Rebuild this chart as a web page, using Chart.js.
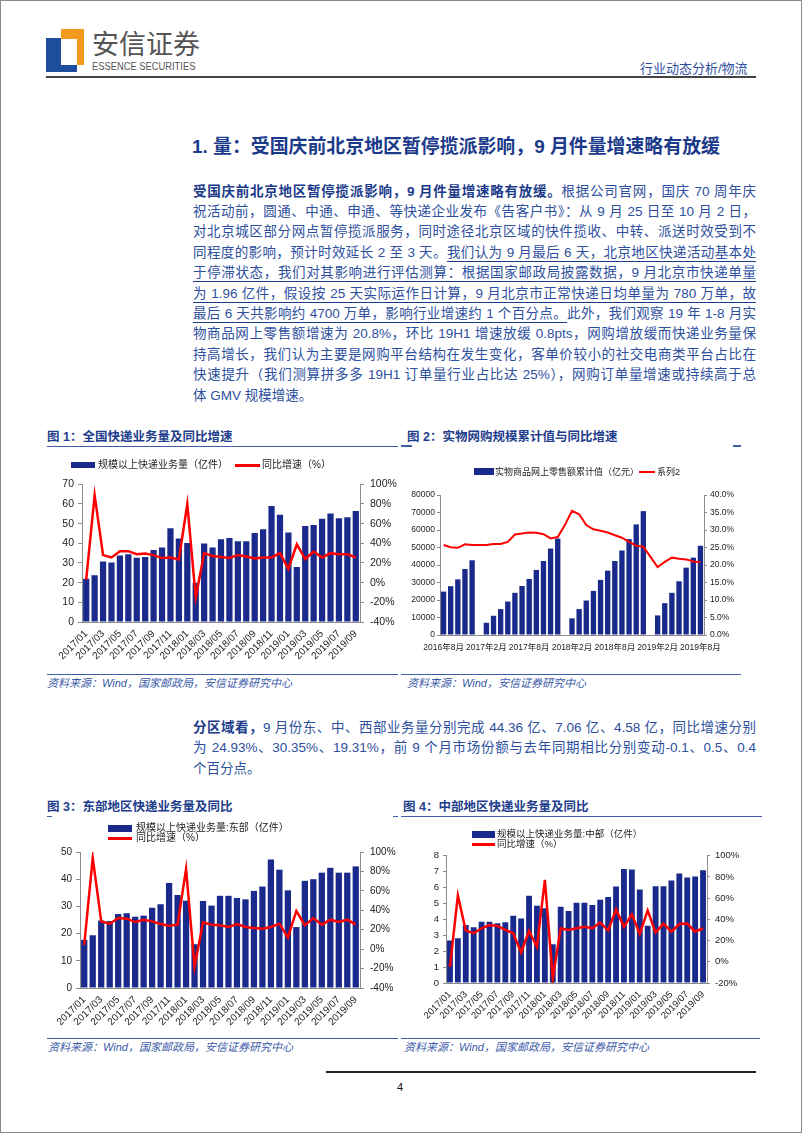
<!DOCTYPE html>
<html lang="zh-CN">
<head>
<meta charset="utf-8">
<title>行业动态分析/物流</title>
<script src="https://cdn.jsdelivr.net/npm/chart.js@4.4.1/dist/chart.umd.min.js"></script>
<style>
  html, body { margin: 0; padding: 0; background: #fff; }
  body { width: 802px; height: 1133px; position: relative; overflow: hidden;
         font-family: "Liberation Sans", "Noto Sans CJK SC", sans-serif; }
  .frame { position: absolute; left: 0; top: 0; width: 800px; height: 1131px; border: 1px solid #8a8a8a; }
  .abs { position: absolute; }
  .ln { position: absolute; left: 193px; width: 563px; height: 20.4px; line-height: 20.4px;
        font-size: 13.5px; color: #2d4f9e; text-align: justify; text-align-last: justify; }
  .ln.last { text-align-last: left; }
  .ln b { color: #1b3a8a; font-weight: 700; }
  .ul { text-decoration: underline; text-underline-offset: 4px; text-decoration-color: #1b3a8a; }
  .cap { position: absolute; font-size: 12.5px; font-weight: 700; color: #1e3d8c; letter-spacing: 0; line-height: 14px; white-space: nowrap; }
  .rule { position: absolute; height: 1.5px; background: #3e5ca8; }
  .src { position: absolute; font-size: 11px; font-style: italic; color: #3b5ba9; white-space: nowrap; line-height: 12px; }
  .box { position: absolute; }
  .lg { position: absolute; color: #222; white-space: nowrap; line-height: 12px; }
  .sw { position: absolute; }
</style>
</head>
<body>
<div class="frame"></div>

<!-- header -->
<div class="abs" style="left:46px;top:38px;width:15px;height:34px;background:#1d4e9e"></div>
<div class="abs" style="left:46px;top:65px;width:31px;height:7px;background:#1d4e9e"></div>
<div class="abs" style="left:61px;top:29px;width:23px;height:10px;background:#f39a1e"></div>
<div class="abs" style="left:77px;top:29px;width:7px;height:36px;background:#f39a1e"></div>
<div class="abs" style="left:92px;top:27px;font-size:27px;line-height:32px;color:#555;font-family:'Noto Sans CJK SC',sans-serif;">安信证券</div>
<div class="abs" style="left:92px;top:60px;font-size:11px;line-height:12px;color:#555;transform:scaleX(0.85);transform-origin:0 0;white-space:nowrap;">ESSENCE SECURITIES</div>
<div class="abs" style="left:640px;top:61px;font-size:13px;line-height:15px;color:#2f4f9f;">行业动态分析/物流</div>
<div class="abs" style="left:46px;top:76px;width:710px;height:2px;background:#444"></div>

<!-- section title -->
<div class="abs" style="left:192px;top:136px;font-size:18.9px;line-height:22px;font-weight:700;color:#1b3a8a;white-space:nowrap;">1. 量：受国庆前北京地区暂停揽派影响，9 月件量增速略有放缓</div>

<!-- paragraph 1 -->
<div class="ln" style="top:181.5px"><b>受国庆前北京地区暂停揽派影响，9 月件量增速略有放缓。</b>根据公司官网，国庆 70 周年庆</div>
<div class="ln" style="top:201.9px">祝活动前，圆通、中通、申通、等快递企业发布《告客户书》：从 9 月 25 日至 10 月 2 日，</div>
<div class="ln" style="top:222.3px">对北京城区部分网点暂停揽派服务，同时途径北京区域的快件揽收、中转、派送时效受到不</div>
<div class="ln" style="top:242.7px">同程度的影响，预计时效延长 2 至 3 天。<span class="ul">我们认为 9 月最后 6 天，北京地区快递活动基本处</span></div>
<div class="ln" style="top:263.1px"><span class="ul">于停滞状态，我们对其影响进行评估测算：根据国家邮政局披露数据，9 月北京市快递单量</span></div>
<div class="ln" style="top:283.5px"><span class="ul">为 1.96 亿件，假设按 25 天实际运作日计算，9 月北京市正常快递日均单量为 780 万单，故</span></div>
<div class="ln" style="top:303.9px"><span class="ul">最后 6 天共影响约 4700 万单，影响行业增速约 1 个百分点。</span>此外，我们观察 19 年 1-8 月实</div>
<div class="ln" style="top:324.3px">物商品网上零售额增速为 20.8%，环比 19H1 增速放缓 0.8pts，网购增放缓而快递业务量保</div>
<div class="ln" style="top:344.7px">持高增长，我们认为主要是网购平台结构在发生变化，客单价较小的社交电商类平台占比在</div>
<div class="ln" style="top:365.1px">快速提升（我们测算拼多多 19H1 订单量行业占比达 25%），网购订单量增速或持续高于总</div>
<div class="ln last" style="top:385.5px">体 GMV 规模增速。</div>

<!-- figure 1 / 2 frames -->
<div class="cap" style="left:47px;top:430px">图 1：全国快递业务量及同比增速</div>
<div class="rule" style="left:47px;top:445.5px;width:351px"></div>
<div class="cap" style="left:407px;top:430px">图 2：实物网购规模累计值与同比增速</div>
<div class="rule" style="left:401px;top:445px;width:11px"></div>
<div class="rule" style="left:733px;top:445px;width:8px"></div>

<div class="box" style="left:40px;top:472px;width:362px;height:195px"><canvas id="c1"></canvas></div>
<div class="box" style="left:410px;top:485px;width:330px;height:180px"><canvas id="c2"></canvas></div>

<div class="sw" style="left:71px;top:462px;width:24px;height:6px;background:#1a2a8c"></div>
<div class="lg" style="left:98px;top:459px;font-size:10px">规模以上快递业务量（亿件）</div>
<div class="sw" style="left:235px;top:463.5px;width:25px;height:3px;background:#ff0000"></div>
<div class="lg" style="left:262px;top:459px;font-size:10px">同比增速（%）</div>

<div class="sw" style="left:474px;top:468px;width:20px;height:7px;background:#1a2a8c"></div>
<div class="lg" style="left:495px;top:466px;font-size:9px">实物商品网上零售额累计值（亿元）</div>
<div class="sw" style="left:639px;top:471px;width:16px;height:2px;background:#ff0000"></div>
<div class="lg" style="left:657px;top:466px;font-size:9px">系列2</div>

<div class="rule" style="left:47px;top:673.5px;width:351px"></div>
<div class="src" style="left:47px;top:677px">资料来源：Wind，国家邮政局，安信证券研究中心</div>
<div class="rule" style="left:401px;top:673.5px;width:340px"></div>
<div class="src" style="left:407px;top:677px">资料来源：Wind，安信证券研究中心</div>

<!-- paragraph 2 -->
<div class="ln" style="top:718px"><b>分区域看，</b>9 月份东、中、西部业务量分别完成 44.36 亿、7.06 亿、4.58 亿，同比增速分别</div>
<div class="ln" style="top:738.4px">为 24.93%、30.35%、19.31%，前 9 个月市场份额与去年同期相比分别变动-0.1、0.5、0.4</div>
<div class="ln last" style="top:758.8px">个百分点。</div>

<!-- figure 3 / 4 frames -->
<div class="cap" style="left:47px;top:800px">图 3：东部地区快递业务量及同比</div>
<div class="rule" style="left:47px;top:815.5px;width:5px"></div>
<div class="rule" style="left:393px;top:815.5px;width:5px"></div>
<div class="cap" style="left:403px;top:800px">图 4：中部地区快递业务量及同比</div>
<div class="rule" style="left:401px;top:815.5px;width:361px"></div>

<div class="box" style="left:38px;top:840px;width:364px;height:195px"><canvas id="c3"></canvas></div>
<div class="box" style="left:404px;top:845px;width:345px;height:185px"><canvas id="c4"></canvas></div>

<div class="sw" style="left:108px;top:824.5px;width:24px;height:7px;background:#1a2a8c"></div>
<div class="lg" style="left:136px;top:822px;font-size:10px">规模以上快递业务量:东部（亿件）</div>
<div class="sw" style="left:108px;top:836.5px;width:24px;height:3px;background:#ff0000"></div>
<div class="lg" style="left:136px;top:832px;font-size:10px">同比增速（%）</div>

<div class="sw" style="left:472px;top:830.5px;width:23px;height:7px;background:#1a2a8c"></div>
<div class="lg" style="left:497px;top:828px;font-size:9.5px">规模以上快递业务量:中部（亿件）</div>
<div class="sw" style="left:472px;top:842.5px;width:23px;height:3px;background:#ff0000"></div>
<div class="lg" style="left:497px;top:838px;font-size:9.5px">同比增速（%）</div>

<div class="rule" style="left:47px;top:1037.5px;width:351px"></div>
<div class="src" style="left:48px;top:1041px">资料来源：Wind，国家邮政局，安信证券研究中心</div>
<div class="rule" style="left:401px;top:1037.5px;width:359px"></div>
<div class="src" style="left:404px;top:1041px">资料来源：Wind，国家邮政局，安信证券研究中心</div>

<!-- footer -->
<div class="abs" style="left:326px;top:1071px;width:430px;height:1.5px;background:#222"></div>
<div class="abs" style="left:397px;top:1081px;font-size:11px;line-height:12px;color:#111">4</div>

<script>
// ── DATA ─────────────────────────────────────────────────────────────────────
const months = ['2017/01','2017/02','2017/03','2017/04','2017/05','2017/06','2017/07','2017/08','2017/09','2017/10','2017/11','2017/12',
                '2018/01','2018/02','2018/03','2018/04','2018/05','2018/06','2018/07','2018/08','2018/09','2018/10','2018/11','2018/12',
                '2019/01','2019/02','2019/03','2019/04','2019/05','2019/06','2019/07','2019/08','2019/09'];

// 图1 全国
const natVolume = [22.0, 23.8, 30.8, 30.3, 33.8, 34.5, 32.6, 33.1, 36.6, 37.9, 47.7, 42.4,
                   40.1, 20.0, 39.9, 37.9, 42.1, 42.7, 41.1, 41.1, 45.2, 47.2, 59.0, 54.5,
                   45.5, 28.0, 48.8, 49.3, 52.5, 55.1, 52.8, 53.3, 56.4];
const natGrowth = [3, 89, 28, 25.6, 32, 32, 29, 29.6, 28, 25, 25.6, 23.6,
                   80, -15, 30, 27, 26, 25, 28, 26.6, 24.6, 25.6, 25.6, 30,
                   14, 39, 24, 31.6, 25.6, 30, 29, 29, 25.6];

// 图2 实物网购
const ecMonths = ['2016年8月','2016年9月','2016年10月','2016年11月','2016年12月',
                  '2017年1月','2017年2月','2017年3月','2017年4月','2017年5月','2017年6月','2017年7月','2017年8月','2017年9月','2017年10月','2017年11月','2017年12月',
                  '2018年1月','2018年2月','2018年3月','2018年4月','2018年5月','2018年6月','2018年7月','2018年8月','2018年9月','2018年10月','2018年11月','2018年12月',
                  '2019年1月','2019年2月','2019年3月','2019年4月','2019年5月','2019年6月','2019年7月','2019年8月'];
const ecValue = [24800, 27900, 31800, 37700, 42700,
                 null, 7000, 11000, 14800, 19100, 24100, 28000, 32000, 37200, 42300, 49400, 55100,
                 null, 9500, 14800, 19700, 25200, 31500, 36800, 42300, 48300, 54800, 63200, 70800,
                 null, 11200, 18200, 24100, 30700, 38500, 44200, 51000];
const ecGrowth = [25.7, 25.1, 24.9, 25.9, 25.7,
                  25.7, 25.7, 26.0, 26.0, 26.6, 28.7, 29.0, 29.3, 29.2, 28.8, 27.6, 28.0,
                  31.4, 35.5, 34.5, 31.4, 30.2, 29.8, 29.3, 28.5, 27.8, 26.6, 25.5, 25.2,
                  22.3, 19.4, 20.9, 22.1, 21.8, 21.6, 21.0, 20.8];

// 图3 东部
const eastVolume = [17.7, 19.4, 24.8, 24.6, 27.2, 27.5, 26.2, 26.6, 29.5, 30.8, 38.6, 34.2,
                    32.1, 16.1, 32.0, 30.3, 33.9, 33.9, 33.1, 32.6, 35.7, 37.3, 47.2, 43.5,
                    35.9, 22.4, 39.4, 40.0, 42.4, 44.2, 42.4, 42.4, 44.7];
const eastGrowth = [4.5, 94, 28.6, 25.9, 32, 31.4, 27.9, 30.3, 28.6, 25.9, 24.1, 25.2,
                    82.4, -18, 27.6, 25.2, 24.5, 22.8, 25.9, 22.8, 21.7, 21, 22.8, 26.2,
                    12, 39.3, 24.5, 32, 25.2, 30.3, 27.9, 30.3, 25.2];

// 图4 中部
const centralVolume = [2.67, 2.81, 3.65, 3.50, 3.85, 3.85, 3.75, 3.81, 4.23, 4.06, 5.48, 4.85,
                       4.69, 2.44, 4.79, 4.52, 5.04, 5.04, 4.90, 5.23, 5.40, 6.06, 7.17, 7.13,
                       5.88, 3.60, 6.08, 6.08, 6.44, 6.88, 6.63, 6.69, 7.08];
const centralGrowth = [-4.8, 62.5, 29.4, 26.9, 31.6, 34.7, 33.8, 30, 26.9, 8.8, 29, 14,
                       77.2, -15.6, 31.6, 30, 31.6, 33, 31.6, 37, 29.4, 49.4, 33, 44.7,
                       26.3, 48.4, 27.5, 36, 28.4, 35.6, 36, 28.4, 31.6];

// ── STYLE ────────────────────────────────────────────────────────────────────
const NAVY = '#1a2a8c';
const RED  = '#ff0000';
const AXIS = '#8c8c8c';
const INK  = '#222';
const FAMILY = '"Liberation Sans", "Noto Sans CJK SC", sans-serif';

Chart.defaults.font.family = FAMILY;
Chart.defaults.color = INK;

// axis helpers
function yAxis(pos, min, max, step, width, fontSize, tickLen, pad, fmt) {
  return {
    position: pos, min, max,
    ticks: { stepSize: step, font: { size: fontSize }, color: INK, padding: pad, callback: fmt },
    grid: { drawOnChartArea: false, drawTicks: true, tickLength: tickLen, color: AXIS },
    border: { display: true, color: AXIS },
    afterFit: s => { s.width = width; },
  };
}

function monthAxis(labels, fontSize, height) {
  return {
    grid: { display: false, drawTicks: false },
    border: { display: true, color: AXIS },
    ticks: { autoSkip: false, minRotation: 45, maxRotation: 45, padding: 6, color: INK,
             font: { size: fontSize }, callback: (v, i) => i % 2 === 0 ? labels[i] : '' },
    afterFit: s => { s.height = height; },
  };
}

function comboChart(id, labels, bars, line, opts) {
  return new Chart(document.getElementById(id), {
    type: 'bar',
    data: {
      labels,
      datasets: [
        { type: 'line', label: opts.lineLabel, data: line, yAxisID: 'y1', borderColor: RED,
          borderWidth: opts.lineWidth || 2.5, pointRadius: 0, tension: 0, order: 0 },
        { type: 'bar', label: opts.barLabel, data: bars, yAxisID: 'y', backgroundColor: NAVY,
          barPercentage: opts.barPct || 0.74, categoryPercentage: 1, order: 1 },
      ],
    },
    options: {
      responsive: true, maintainAspectRatio: false, animation: false,
      layout: { padding: { top: opts.padTop, left: 0, right: 0, bottom: 0 } },
      plugins: { legend: { display: false }, tooltip: { enabled: false } },
      scales: { x: opts.x, y: opts.y, y1: opts.y1 },
    },
  });
}

const pct = v => v + '%';

// ── 图1 ──────────────────────────────────────────────────────────────────────
comboChart('c1', months, natVolume, natGrowth, {
  barLabel: '规模以上快递业务量（亿件）', lineLabel: '同比增速（%）', padTop: 9,
  x: monthAxis(months, 10, 45),
  y: yAxis('left', 0, 70, 10, 42, 10.5, 4, 4),
  y1: yAxis('right', -40, 100, 20, 42, 10.5, 4, 6, pct),
});

// ── 图2 ──────────────────────────────────────────────────────────────────────
comboChart('c2', ecMonths, ecValue, ecGrowth, {
  barLabel: '实物商品网上零售额累计值（亿元）', lineLabel: '系列2', padTop: 10, lineWidth: 2, barPct: 0.75,
  x: {
    grid: { display: false, drawTicks: false },
    border: { display: true, color: AXIS },
    ticks: { autoSkip: false, minRotation: 0, maxRotation: 0, padding: 8, color: INK,
             font: { size: 8.5 }, callback: (v, i) => i % 6 === 0 ? ecMonths[i] : '' },
    afterFit: s => { s.height = 30; },
  },
  y: yAxis('left', 0, 80000, 10000, 30, 8.5, 3, 2),
  y1: yAxis('right', 0, 40, 5, 36, 8.5, 3, 3, v => v.toFixed(1) + '%'),
});

// ── 图3 ──────────────────────────────────────────────────────────────────────
comboChart('c3', months, eastVolume, eastGrowth, {
  barLabel: '规模以上快递业务量:东部（亿件）', lineLabel: '同比增速（%）', padTop: 9,
  x: monthAxis(months, 10, 47),
  y: yAxis('left', 0, 50, 5, 42, 10, 4, 4),
  y1: yAxis('right', -40, 100, 20, 42, 10, 4, 6, pct),
});

// ── 图4 ──────────────────────────────────────────────────────────────────────
comboChart('c4', months, centralVolume, centralGrowth, {
  barLabel: '规模以上快递业务量:中部（亿件）', lineLabel: '同比增速（%）', padTop: 9,
  x: monthAxis(months, 9.5, 47),
  y: yAxis('left', 0, 8, 1, 42, 9.5, 3, 4),
  y1: yAxis('right', -20, 100, 20, 42, 9.5, 3, 5, pct),
});
</script>
</body>
</html>
